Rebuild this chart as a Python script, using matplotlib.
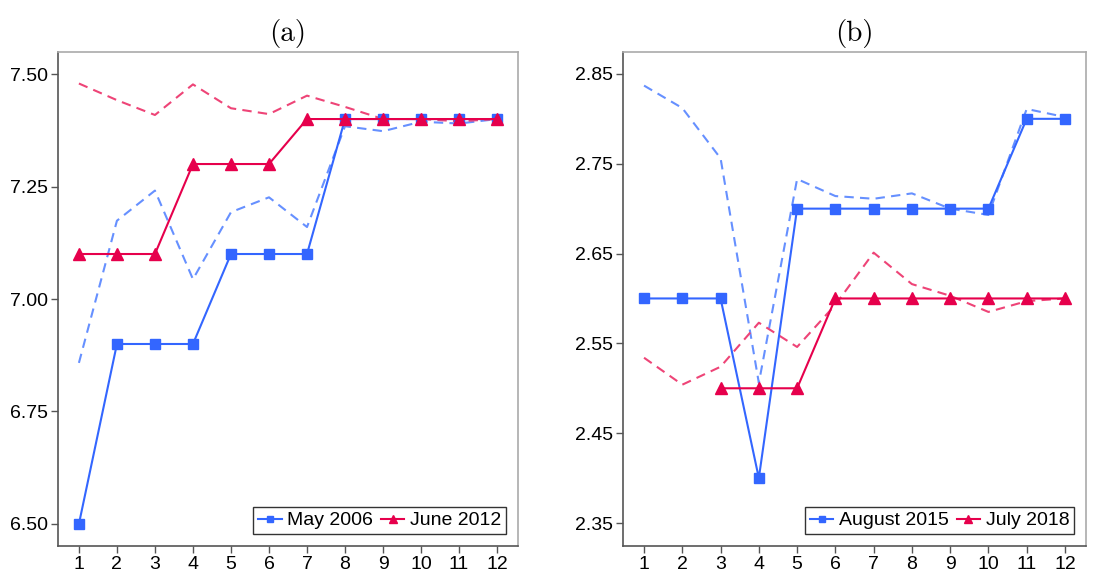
import numpy as np
import matplotlib
matplotlib.use('Agg')
import matplotlib.pyplot as plt

months = np.arange(1, 13)

# panel (a)
may2006 = [6.5, 6.9, 6.9, 6.9, 7.1, 7.1, 7.1, 7.4, 7.4, 7.4, 7.4, 7.4]
may2006_dash = [6.858, 7.174, 7.241, 7.044, 7.193, 7.226, 7.160, 7.384, 7.373, 7.394, 7.390, 7.400]
jun2012 = [7.1, 7.1, 7.1, 7.3, 7.3, 7.3, 7.4, 7.4, 7.4, 7.4, 7.4, 7.4]
jun2012_dash = [7.479, 7.442, 7.409, 7.477, 7.424, 7.411, 7.452, 7.427, 7.400, 7.400, 7.395, 7.400]
yticks_a = [6.50, 6.75, 7.00, 7.25, 7.50]

# panel (b)
aug2015 = [2.6, 2.6, 2.6, 2.4, 2.7, 2.7, 2.7, 2.7, 2.7, 2.7, 2.8, 2.8]
aug2015_dash = [2.837, 2.812, 2.756, 2.506, 2.733, 2.714, 2.711, 2.717, 2.700, 2.693, 2.811, 2.802]
jul2018 = [np.nan, np.nan, 2.5, 2.5, 2.5, 2.6, 2.6, 2.6, 2.6, 2.6, 2.6, 2.6]
jul2018_dash = [2.534, 2.504, 2.524, 2.573, 2.546, 2.593, 2.651, 2.616, 2.603, 2.585, 2.597, 2.600]
yticks_b = [2.35, 2.45, 2.55, 2.65, 2.75, 2.85]

blue = '#3366FF'
blue_d = '#6690FF'
red = '#E6004C'
red_d = '#EE4477'

plt.rcParams['font.family'] = ['Liberation Sans', 'DejaVu Sans']

fig = plt.figure(figsize=(10.97, 5.76), dpi=100)
ax1 = fig.add_axes([58/1097, 30/576, 460/1097, 494/576])
ax2 = fig.add_axes([623/1097, 30/576, 463/1097, 494/576])


def panel(ax, s1, d1, l1, s2, d2, l2, yticks, ylim, title):
    ax.plot(months, d1, ls=(0, (4.5, 3)), color=blue_d, lw=1.5)
    ax.plot(months, d2, ls=(0, (4.5, 3)), color=red_d, lw=1.5)
    ax.plot(months, s1, color=blue, lw=1.5, marker='s', ms=7.5, label=l1)
    ax.plot(months, s2, color=red, lw=1.5, marker='^', ms=9, label=l2)
    ax.set_xlim(0.45, 12.55)
    ax.set_ylim(*ylim)
    ax.set_xticks(months)
    ax.set_yticks(yticks)
    ax.set_yticklabels([f'{v:.2f}' for v in yticks])
    ax.tick_params(labelsize=14, length=5, color='#555555', width=1, pad=2)
    for sp in ('left', 'bottom'):
        ax.spines[sp].set_color('#555555')
        ax.spines[sp].set_linewidth(1.2)
    for sp in ('top', 'right'):
        ax.spines[sp].set_color('#aaaaaa')
        ax.spines[sp].set_linewidth(1.2)
    ax.set_title(title, family='cmr10', fontsize=21, pad=8)
    leg = ax.legend(loc='lower right', ncol=2, fontsize=14, fancybox=False,
                    edgecolor='#333333', framealpha=1, handlelength=1.2,
                    handletextpad=0.3, columnspacing=0.4, borderpad=0.25,
                    markerscale=0.6, borderaxespad=0.6)
    leg.get_frame().set_linewidth(1.0)


panel(ax1, may2006, may2006_dash, 'May 2006', jun2012, jun2012_dash, 'June 2012',
      yticks_a, (6.451, 7.549), '(a)')
panel(ax2, aug2015, aug2015_dash, 'August 2015', jul2018, jul2018_dash, 'July 2018',
      yticks_b, (2.3244, 2.8744), '(b)')

fig.savefig('out.png', dpi=100)
